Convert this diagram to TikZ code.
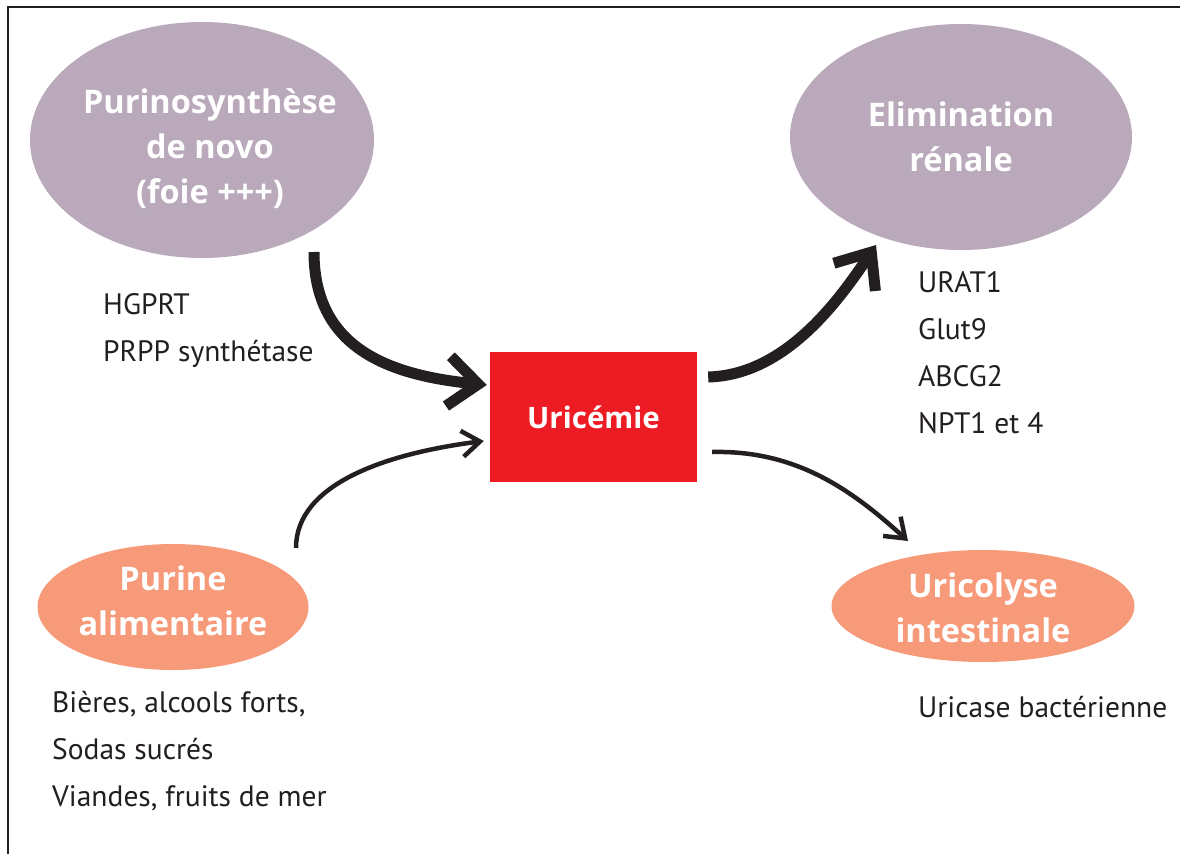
\documentclass[tikz,border=0pt]{standalone}
\usepackage{fontspec}
\setmainfont{PT Sans}
\newfontfamily\titrefont{Open Sans}
\usetikzlibrary{shapes.geometric,arrows.meta,calc}
\definecolor{mauve}{HTML}{B9A9BB}
\definecolor{rouge}{HTML}{ED1C24}
\definecolor{saumon}{HTML}{F79A7A}
\definecolor{encre}{HTML}{231F20}

\begin{document}
\begin{tikzpicture}[x=1pt,y=-1pt,
    bulle/.style={ellipse, inner sep=0pt},
    titre/.style={inner sep=0pt, text=white, align=center,
      font=\fontsize{32.5}{45}\titrefont\bfseries},
    liste/.style={anchor=base west, inner sep=0pt, text=encre, align=left,
      font=\fontsize{29.5}{47}\selectfont},
    gros/.style={line width=11pt, encre, -{Straight Barb[length=30pt, width=50pt]}},
    fin/.style={line width=4.5pt, encre, -{Straight Barb[length=18pt, width=26pt]}}]
  \useasboundingbox (0,0) rectangle (1180,854);

  % Frame (cut at right and bottom)
  \draw[line width=2pt, encre] (8,854) -- (8,6.5) -- (1180,6.5);

  % Sources and outlets
  \node[bulle, fill=mauve, minimum width=344pt, minimum height=236pt] (purino) at (202,140) {};
  \node[bulle, fill=mauve, minimum width=342pt, minimum height=226pt] (elim) at (961,137) {};
  \node[bulle, fill=saumon, minimum width=271pt, minimum height=126pt] (purine) at (173,607) {};
  \node[bulle, fill=saumon, minimum width=303pt, minimum height=112pt] (urico) at (983,606) {};

  \node[titre] (purinoT) at ($(purino)+(8,9)$) {Purinosynthèse\\de novo\\(foie +++)};
  \node[titre] (elimT) at ($(elim)+(0,0)$) {Elimination\\rénale};
  \node[titre] (purineT) at ($(purine)+(0,-6)$) {Purine\\alimentaire};
  \node[titre] (uricoT) at ($(urico)+(0,2)$) {Uricolyse\\intestinale};

  % Central box
  \node[fill=rouge, text=white, minimum width=207pt, minimum height=130pt, inner sep=0pt,
    font=\fontsize{29.5}{32}\titrefont\bfseries] (uric) at (593.5,417) {Uricémie};

  % Lists (anchored on the last line)
  \node[liste] (enzymes) at (103,361) {HGPRT\\PRPP synthétase};
  \node[liste] (transp) at (918,433) {URAT1\\Glut9\\ABCG2\\NPT1 et 4};
  \node[liste] (aliments) at (52,806) {Bières, alcools forts,\\Sodas sucrés\\Viandes, fruits de mer};
  \node[liste] (bact) at (918,717) {Uricase bactérienne};

  % Flows
  \draw[gros] ($(purino.center)+(112,112)$) .. controls +(0,95) and +(-100,-10) .. ($(uric.west)+(-3,-32)$);
  \draw[gros] ($(uric.east)+(11,-40)$) .. controls +(75,-2) and +(-40,60) .. ($(elim.center)+(-85,108)$);
  \draw[fin] ($(purine.center)+(123,-59)$) .. controls +(0,-65) and +(-95,12) .. ($(uric.west)+(-6,24)$);
  \draw[fin] ($(uric.east)+(15,35)$) .. controls +(85,-2) and +(-55,-50) .. ($(urico.center)+(-75,-65)$);
\end{tikzpicture}
\end{document}
